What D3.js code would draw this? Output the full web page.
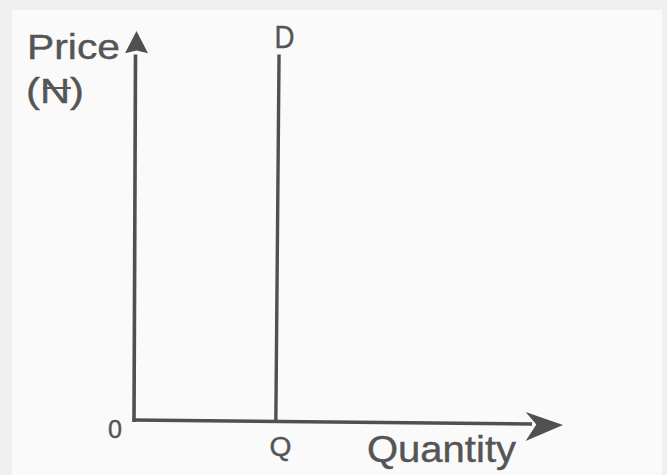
<!DOCTYPE html>
<html>
<head>
<meta charset="utf-8">
<script src="https://cdn.jsdelivr.net/npm/d3@7"></script>
<style>
  html, body { margin: 0; padding: 0; background: #f0f0f0; }
  svg { display: block; }
</style>
</head>
<body>
<script>
// Perfectly inelastic demand: a vertical demand curve at quantity Q.
const axisTitles = ["Price", "(N)", "Quantity"];
const originLabel = ["0"];
const curveLabel = ["D"];
const quantityTicks = [{ label: "Q", value: 3.4 }];
// Demand curve: same quantity at every price
const demandPoints = [
  { q: 3.4, p: 0 },
  { q: 3.4, p: 9.4 }
];

const W = 667, H = 475;
const ink = "#505050";

const svg = d3.select("body").append("svg")
  .attr("width", W).attr("height", H);

// paper panel
svg.append("rect").attr("x", 0).attr("y", 0).attr("width", W).attr("height", H).attr("fill", "#f0f0f0");
svg.append("rect").attr("x", 12).attr("y", 10).attr("width", 650).attr("height", 465).attr("fill", "#fafafa");

const x = d3.scaleLinear().domain([0, 10]).range([134, 562]);
const y = d3.scaleLinear().domain([0, 10]).range([421, 31]);

const g = svg.append("g");

// vertical (price) axis
g.append("line")
  .attr("x1", x(0)).attr("y1", y(0) + 1)
  .attr("x2", x(0) + 1.5).attr("y2", y(9.4))
  .attr("stroke", ink).attr("stroke-width", 3.6);
g.append("path")
  .attr("d", `M${x(0) + 2.5},${y(10)} L${x(0) + 14},${y(9.43)} L${x(0) + 2.5},${y(9.5)} L${x(0) - 9},${y(9.43)} Z`)
  .attr("fill", ink);

// horizontal (quantity) axis
g.append("line")
  .attr("x1", x(0) - 1.5).attr("y1", y(0) - 1)
  .attr("x2", x(9.3)).attr("y2", y(0) + 3)
  .attr("stroke", ink).attr("stroke-width", 3.6);
g.append("path")
  .attr("d", `M${x(10) + 1},${y(0) + 4} L${x(9.15)},${y(0) - 9} L${x(9.4)},${y(0) + 3.5} L${x(9.15)},${y(0) + 20} Z`)
  .attr("fill", ink);

// demand curve
const line = d3.line().x(d => x(d.q)).y(d => y(d.p));
g.append("path")
  .datum(demandPoints)
  .attr("d", line)
  .attr("transform", "skewX(-0.5)")
  .attr("fill", "none")
  .attr("stroke", ink).attr("stroke-width", 3.4);

const font = "'Liberation Sans', Arial, sans-serif";
const txt = (s, px, py, size, len, anchor) => {
  const t = svg.append("text")
    .attr("x", px).attr("y", py)
    .attr("font-family", font).attr("font-size", size)
    .attr("fill", "#555")
    .attr("stroke", "#555").attr("stroke-width", 0.4)
    .attr("text-anchor", anchor || "start")
    .text(s);
  if (len) t.attr("textLength", len).attr("lengthAdjust", "spacingAndGlyphs");
  return t;
};

txt(axisTitles[0], 27, 59, 35, 93);
txt(axisTitles[1], 26, 103, 35, 58);
// naira stroke across the N
svg.append("line").attr("x1", 43).attr("x2", 71).attr("y1", 88).attr("y2", 88)
  .attr("stroke", "#555").attr("stroke-width", 2);
txt(axisTitles[2], 367, 462, 37, 149);

txt(originLabel[0], 115, 438, 25, 14, "middle");
txt(curveLabel[0], x(demandPoints[0].q) + 5, 48, 32, 20, "middle");
quantityTicks.forEach(t => {
  txt(t.label, x(t.value) + 1, 456, 27, 22, "middle");
});
</script>
</body>
</html>
